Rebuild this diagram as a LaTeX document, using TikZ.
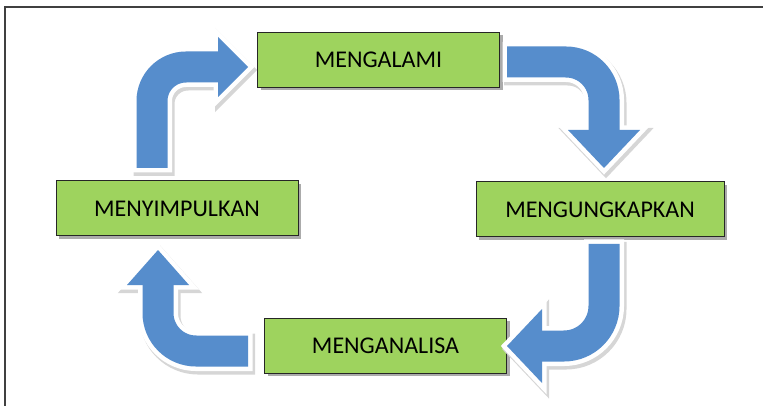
\documentclass[tikz,border=0pt]{standalone}
\usepackage{fontspec}
\setmainfont{Carlito}
\usepackage{xcolor}
\usetikzlibrary{calc,shadows}
\definecolor{stagegreen}{RGB}{158,211,94}
\definecolor{loopblue}{RGB}{86,141,204}
\tikzset{
  stage/.style={
     draw=black!85,
     fill=stagegreen,
     line width=1pt,
     minimum width=242pt,
     minimum height=55pt,
     inner sep=0pt,
     font=\fontsize{24}{28}\selectfont,
     drop shadow={shadow xshift=3pt, shadow yshift=-3pt, fill=black!60, opacity=.55}
  },
  loop shadow/.style={black!16, fill=black!16, line join=miter},
  loop rim/.style={white, fill=white, line join=miter},
  loop body/.style={loopblue, fill=loopblue}
}
% #1 tail, #2 bend, #3 head base, #4 tip, #5 head half width, #6 bend radius
\newcommand{\cyclearrow}[6]{%
  \begin{scope}[transform canvas={xshift=2pt,yshift=-3pt}]
    \draw[loop shadow, fill=none, line width=41pt, rounded corners=#6, shorten <=-5pt] (#1) -- (#2) -- (#3);
    \filldraw[loop shadow, line width=10pt] ($(#3)!#5!90:(#4)$) -- (#4) -- ($(#3)!#5!-90:(#4)$) -- cycle;
  \end{scope}
  \draw[loop rim, fill=none, line width=40pt, rounded corners=#6, shorten <=-4.5pt] (#1) -- (#2) -- (#3);
  \filldraw[loop rim, line width=9pt] ($(#3)!#5!90:(#4)$) -- (#4) -- ($(#3)!#5!-90:(#4)$) -- cycle;
  \draw[loop body, fill=none, line width=31pt, rounded corners=#6] (#1) -- (#2) -- (#3);
  \fill[loop body] ($(#3)!#5!90:(#4)$) -- (#4) -- ($(#3)!#5!-90:(#4)$) -- cycle;
}

\begin{document}
\begin{tikzpicture}[x=1pt, y=-1pt]
  \useasboundingbox (0,0) rectangle (763,406);
  \draw[black!75, line width=1.5pt] (5,406) -- (5,7) -- (763,7);

  % Stages
  \node[stage] (alami)   at (378.5,60)  {MENGALAMI};
  \node[stage] (simpul)  at (177,208.5) {MENYIMPULKAN};
  \node[stage, minimum width=248pt] (ungkap) at (600,209.5) {MENGUNGKAPKAN};
  \node[stage] (analisa) at (385.5,345.5) {MENGANALISA};

  % Arrow points
  \coordinate (s1) at (152,168); \coordinate (b1) at (152,67);
  \coordinate (h1) at (218,67);  \coordinate (t1) at (248,67);
  \coordinate (s2) at (507,62);  \coordinate (b2) at (604,62);
  \coordinate (h2) at (604,130); \coordinate (t2) at (604,168);
  \coordinate (s3) at (604,244); \coordinate (b3) at (604,346);
  \coordinate (h3) at (542,346); \coordinate (t3) at (507,346);
  \coordinate (s4) at (248,351); \coordinate (b4) at (158,351);
  \coordinate (h4) at (158,285); \coordinate (t4) at (158,250);

  % Cycle arrows
  \cyclearrow{s1}{b1}{h1}{t1}{30pt}{34pt}
  \cyclearrow{s2}{b2}{h2}{t2}{36pt}{38pt}
  \cyclearrow{s3}{b3}{h3}{t3}{37pt}{40pt}
  \cyclearrow{s4}{b4}{h4}{t4}{31pt}{38pt}
\end{tikzpicture}
\end{document}
